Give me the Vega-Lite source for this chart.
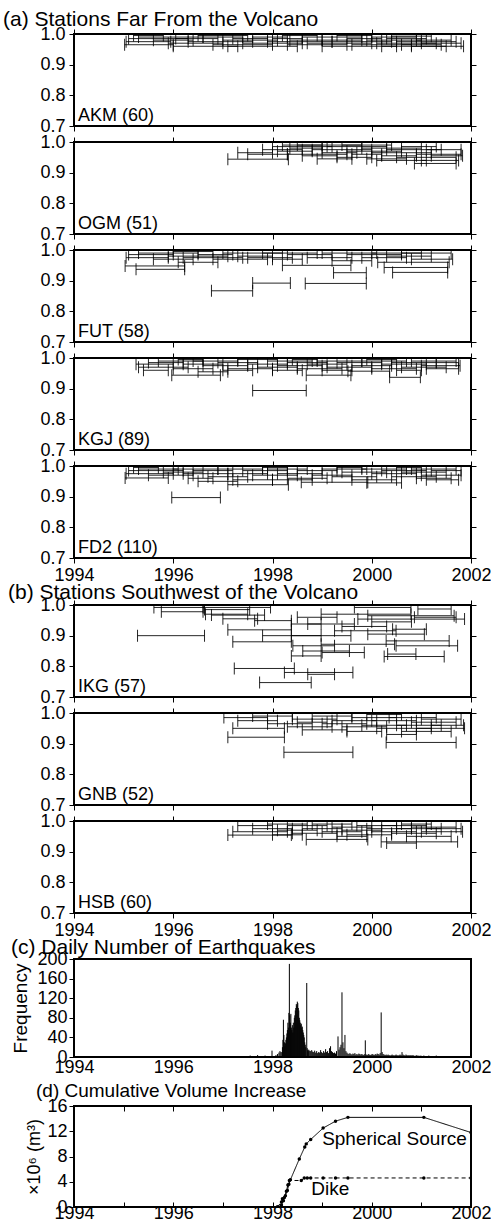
{
"$schema":"https://vega.github.io/schema/vega-lite/v6.json",
"padding":{"left":2,"right":0,"top":8,"bottom":0},
"spacing":-4,
"config":{
 "font":"Liberation Sans",
 "view":{"stroke":"black","strokeWidth":2},
 "axis":{"domain":false,"grid":false,"tickColor":"black","tickSize":5,"tickWidth":1,"labelColor":"black","labelFontSize":18,"labelFont":"Liberation Sans","labelPadding":3,"labelFlush":false,"titleFont":"Liberation Sans","titleFontWeight":"normal","titleColor":"black","titleFontSize":18},
 "title":{"font":"Liberation Sans","fontSize":21,"fontWeight":"normal","color":"black","anchor":"start","frame":"group","offset":0},
 "text":{"font":"Liberation Sans","color":"black","fontSize":18},
 "concat":{"spacing":-4}
},
"datasets":{
"labs":[{"s":"AKM","lab":"AKM (60)"},{"s":"OGM","lab":"OGM (51)"},{"s":"FUT","lab":"FUT (58)"},{"s":"KGJ","lab":"KGJ (89)"},{"s":"FD2","lab":"FD2 (110)"},{"s":"IKG","lab":"IKG (57)"},{"s":"GNB","lab":"GNB (52)"},{"s":"HSB","lab":"HSB (60)"}],
"iv":[
{"s":"AKM","a":1995.02,"b":1996.0,"v":0.965},{"s":"AKM","a":1995.05,"b":1995.95,"v":0.975},{"s":"AKM","a":1995.1,"b":1996.3,"v":0.985},{"s":"AKM","a":1995.3,"b":1996.6,"v":0.99},{"s":"AKM","a":1995.6,"b":1996.4,"v":0.98},{"s":"AKM","a":1995.9,"b":1997.0,"v":0.97},{"s":"AKM","a":1996.0,"b":1997.3,"v":0.96},{"s":"AKM","a":1996.05,"b":1996.9,"v":0.985},{"s":"AKM","a":1996.3,"b":1997.6,"v":0.975},{"s":"AKM","a":1996.6,"b":1997.4,"v":0.99},{"s":"AKM","a":1996.8,"b":1998.0,"v":0.965},{"s":"AKM","a":1997.0,"b":1998.1,"v":0.98},{"s":"AKM","a":1997.2,"b":1997.9,"v":0.985},{"s":"AKM","a":1997.4,"b":1998.6,"v":0.97},{"s":"AKM","a":1997.6,"b":1998.3,"v":0.99},{"s":"AKM","a":1997.9,"b":1999.2,"v":0.975},{"s":"AKM","a":1998.0,"b":1998.6,"v":0.985},{"s":"AKM","a":1998.3,"b":1999.5,"v":0.965},{"s":"AKM","a":1998.35,"b":1999.0,"v":0.98},{"s":"AKM","a":1998.6,"b":1999.8,"v":0.99},{"s":"AKM","a":1998.7,"b":2000.0,"v":0.97},{"s":"AKM","a":1999.0,"b":1999.8,"v":0.98},{"s":"AKM","a":1999.2,"b":2000.4,"v":0.975},{"s":"AKM","a":1999.5,"b":2000.2,"v":0.985},{"s":"AKM","a":1999.6,"b":2000.8,"v":0.965},{"s":"AKM","a":1999.9,"b":2001.0,"v":0.98},{"s":"AKM","a":2000.0,"b":2000.9,"v":0.99},{"s":"AKM","a":2000.1,"b":2001.3,"v":0.97},{"s":"AKM","a":2000.2,"b":2001.5,"v":0.96},{"s":"AKM","a":2000.3,"b":2001.1,"v":0.985},{"s":"AKM","a":2000.5,"b":2001.7,"v":0.975},{"s":"AKM","a":2000.6,"b":2001.4,"v":0.965},{"s":"AKM","a":2000.8,"b":2001.85,"v":0.96},{"s":"AKM","a":2000.9,"b":2001.6,"v":0.98},{"s":"AKM","a":2001.0,"b":2001.8,"v":0.97},{"s":"AKM","a":1995.2,"b":1995.8,"v":0.995},{"s":"AKM","a":1996.5,"b":1997.5,"v":0.995},{"s":"AKM","a":1998.2,"b":1998.9,"v":0.995},{"s":"AKM","a":1999.3,"b":2000.0,"v":0.995},{"s":"AKM","a":2000.4,"b":2001.2,"v":0.993},{"s":"AKM","a":1997.1,"b":1998.5,"v":0.96},{"s":"AKM","a":1999.0,"b":2000.5,"v":0.96},
{"s":"OGM","a":1997.1,"b":1998.32,"v":0.944},{"s":"OGM","a":1997.3,"b":1998.0,"v":0.965},{"s":"OGM","a":1997.5,"b":1998.3,"v":0.96},{"s":"OGM","a":1997.8,"b":1998.6,"v":0.975},{"s":"OGM","a":1998.0,"b":1999.2,"v":0.985},{"s":"OGM","a":1998.1,"b":1998.8,"v":0.97},{"s":"OGM","a":1998.3,"b":1999.5,"v":0.96},{"s":"OGM","a":1998.35,"b":1999.0,"v":0.98},{"s":"OGM","a":1998.5,"b":1999.8,"v":0.99},{"s":"OGM","a":1998.6,"b":1999.3,"v":0.955},{"s":"OGM","a":1998.8,"b":2000.0,"v":0.975},{"s":"OGM","a":1999.0,"b":1999.7,"v":0.965},{"s":"OGM","a":1999.1,"b":2000.3,"v":0.985},{"s":"OGM","a":1999.3,"b":2000.0,"v":0.95},{"s":"OGM","a":1999.5,"b":2000.6,"v":0.97},{"s":"OGM","a":1999.6,"b":2000.2,"v":0.96},{"s":"OGM","a":1999.8,"b":2001.0,"v":0.98},{"s":"OGM","a":1999.9,"b":2000.7,"v":0.945},{"s":"OGM","a":2000.0,"b":2001.2,"v":0.965},{"s":"OGM","a":2000.2,"b":2000.9,"v":0.955},{"s":"OGM","a":2000.3,"b":2001.4,"v":0.975},{"s":"OGM","a":2000.5,"b":2001.7,"v":0.95},{"s":"OGM","a":2000.6,"b":2001.3,"v":0.985},{"s":"OGM","a":2000.86,"b":2001.7,"v":0.93},{"s":"OGM","a":2000.9,"b":2001.8,"v":0.96},{"s":"OGM","a":2001.0,"b":2001.75,"v":0.94},{"s":"OGM","a":2001.2,"b":2001.83,"v":0.955},{"s":"OGM","a":1998.9,"b":1999.6,"v":0.945},{"s":"OGM","a":1999.4,"b":2000.4,"v":0.99},{"s":"OGM","a":2000.1,"b":2001.1,"v":0.94},{"s":"OGM","a":1998.2,"b":1999.0,"v":0.99},{"s":"OGM","a":2001.1,"b":2001.8,"v":0.975},
{"s":"FUT","a":1995.03,"b":1996.23,"v":0.948},{"s":"FUT","a":1995.25,"b":1996.23,"v":0.937},{"s":"FUT","a":1995.05,"b":1995.9,"v":0.975},{"s":"FUT","a":1995.1,"b":1996.0,"v":0.985},{"s":"FUT","a":1995.3,"b":1996.5,"v":0.99},{"s":"FUT","a":1995.6,"b":1996.4,"v":0.97},{"s":"FUT","a":1995.9,"b":1997.1,"v":0.98},{"s":"FUT","a":1996.0,"b":1996.8,"v":0.995},{"s":"FUT","a":1996.2,"b":1997.4,"v":0.975},{"s":"FUT","a":1996.5,"b":1997.2,"v":0.985},{"s":"FUT","a":1996.77,"b":1997.6,"v":0.867},{"s":"FUT","a":1996.8,"b":1997.9,"v":0.97},{"s":"FUT","a":1997.0,"b":1998.2,"v":0.99},{"s":"FUT","a":1997.3,"b":1998.0,"v":0.98},{"s":"FUT","a":1997.6,"b":1998.36,"v":0.892},{"s":"FUT","a":1997.5,"b":1998.4,"v":0.975},{"s":"FUT","a":1997.8,"b":1998.9,"v":0.99},{"s":"FUT","a":1998.2,"b":1999.58,"v":0.95},{"s":"FUT","a":1998.3,"b":1999.2,"v":0.985},{"s":"FUT","a":1998.66,"b":1999.89,"v":0.891},{"s":"FUT","a":1998.7,"b":1999.6,"v":0.975},{"s":"FUT","a":1999.0,"b":2000.1,"v":0.99},{"s":"FUT","a":1999.23,"b":1999.89,"v":0.926},{"s":"FUT","a":1999.2,"b":2000.0,"v":0.965},{"s":"FUT","a":1999.5,"b":2000.6,"v":0.985},{"s":"FUT","a":1999.8,"b":2000.7,"v":0.975},{"s":"FUT","a":2000.0,"b":2001.0,"v":0.99},{"s":"FUT","a":2000.12,"b":2001.56,"v":0.96},{"s":"FUT","a":2000.25,"b":2001.53,"v":0.943},{"s":"FUT","a":2000.42,"b":2001.53,"v":0.927},{"s":"FUT","a":2000.3,"b":2001.2,"v":0.98},{"s":"FUT","a":2000.6,"b":2001.6,"v":0.99},{"s":"FUT","a":2000.8,"b":2001.63,"v":0.97},{"s":"FUT","a":1998.0,"b":1998.6,"v":0.97},{"s":"FUT","a":1996.1,"b":1996.9,"v":0.96},
{"s":"KGJ","a":1995.25,"b":1996.0,"v":0.98},{"s":"KGJ","a":1995.3,"b":1996.3,"v":0.97},{"s":"KGJ","a":1995.5,"b":1996.2,"v":0.985},{"s":"KGJ","a":1995.7,"b":1996.6,"v":0.99},{"s":"KGJ","a":1995.97,"b":1996.95,"v":0.944},{"s":"KGJ","a":1996.0,"b":1996.8,"v":0.965},{"s":"KGJ","a":1996.2,"b":1997.0,"v":0.98},{"s":"KGJ","a":1996.4,"b":1997.3,"v":0.99},{"s":"KGJ","a":1996.6,"b":1997.5,"v":0.975},{"s":"KGJ","a":1996.9,"b":1997.7,"v":0.985},{"s":"KGJ","a":1997.1,"b":1998.0,"v":0.965},{"s":"KGJ","a":1997.3,"b":1998.1,"v":0.995},{"s":"KGJ","a":1997.5,"b":1998.3,"v":0.98},{"s":"KGJ","a":1997.6,"b":1998.68,"v":0.894},{"s":"KGJ","a":1997.7,"b":1998.5,"v":0.97},{"s":"KGJ","a":1997.9,"b":1998.8,"v":0.99},{"s":"KGJ","a":1998.1,"b":1999.0,"v":0.975},{"s":"KGJ","a":1998.3,"b":1999.1,"v":0.985},{"s":"KGJ","a":1998.5,"b":1999.4,"v":0.965},{"s":"KGJ","a":1998.68,"b":1999.58,"v":0.944},{"s":"KGJ","a":1998.7,"b":1999.5,"v":0.98},{"s":"KGJ","a":1998.9,"b":1999.8,"v":0.99},{"s":"KGJ","a":1999.1,"b":2000.0,"v":0.97},{"s":"KGJ","a":1999.3,"b":2000.2,"v":0.985},{"s":"KGJ","a":1999.52,"b":2000.36,"v":0.957},{"s":"KGJ","a":1999.6,"b":2000.4,"v":0.975},{"s":"KGJ","a":1999.8,"b":2000.7,"v":0.99},{"s":"KGJ","a":2000.0,"b":2000.9,"v":0.965},{"s":"KGJ","a":2000.2,"b":2001.1,"v":0.98},{"s":"KGJ","a":2000.36,"b":2000.98,"v":0.937},{"s":"KGJ","a":2000.4,"b":2001.3,"v":0.985},{"s":"KGJ","a":2000.6,"b":2001.5,"v":0.97},{"s":"KGJ","a":2000.8,"b":2001.7,"v":0.99},{"s":"KGJ","a":2001.0,"b":2001.78,"v":0.975},{"s":"KGJ","a":2001.1,"b":2001.75,"v":0.965},{"s":"KGJ","a":1996.1,"b":1996.6,"v":0.995},{"s":"KGJ","a":1997.0,"b":1997.6,"v":0.96},{"s":"KGJ","a":1998.0,"b":1998.6,"v":0.96},{"s":"KGJ","a":1999.0,"b":1999.6,"v":0.96},{"s":"KGJ","a":2000.5,"b":2001.0,"v":0.96},{"s":"KGJ","a":1998.4,"b":1998.9,"v":0.995},{"s":"KGJ","a":1999.9,"b":2000.5,"v":0.995},{"s":"KGJ","a":2001.3,"b":2001.75,"v":0.985},{"s":"KGJ","a":1995.4,"b":1995.9,"v":0.96},{"s":"KGJ","a":1996.5,"b":1997.1,"v":0.955},
{"s":"FD2","a":1995.03,"b":1995.9,"v":0.961},{"s":"FD2","a":1995.05,"b":1996.0,"v":0.975},{"s":"FD2","a":1995.1,"b":1996.2,"v":0.985},{"s":"FD2","a":1995.3,"b":1996.1,"v":0.99},{"s":"FD2","a":1995.5,"b":1996.4,"v":0.97},{"s":"FD2","a":1995.8,"b":1996.6,"v":0.98},{"s":"FD2","a":1995.97,"b":1996.95,"v":0.897},{"s":"FD2","a":1996.0,"b":1996.9,"v":0.99},{"s":"FD2","a":1996.2,"b":1997.1,"v":0.975},{"s":"FD2","a":1996.4,"b":1997.2,"v":0.985},{"s":"FD2","a":1996.7,"b":1997.5,"v":0.965},{"s":"FD2","a":1996.9,"b":1997.8,"v":0.99},{"s":"FD2","a":1997.1,"b":1998.32,"v":0.939},{"s":"FD2","a":1997.1,"b":1997.9,"v":0.975},{"s":"FD2","a":1997.2,"b":1998.0,"v":0.955},{"s":"FD2","a":1997.4,"b":1998.3,"v":0.985},{"s":"FD2","a":1997.6,"b":1998.5,"v":0.97},{"s":"FD2","a":1997.9,"b":1998.7,"v":0.99},{"s":"FD2","a":1998.1,"b":1999.0,"v":0.975},{"s":"FD2","a":1998.3,"b":1999.1,"v":0.96},{"s":"FD2","a":1998.5,"b":1999.3,"v":0.985},{"s":"FD2","a":1998.58,"b":1999.92,"v":0.947},{"s":"FD2","a":1998.8,"b":1999.6,"v":0.97},{"s":"FD2","a":1999.0,"b":1999.9,"v":0.99},{"s":"FD2","a":1999.2,"b":2000.1,"v":0.965},{"s":"FD2","a":1999.4,"b":2000.3,"v":0.98},{"s":"FD2","a":1999.6,"b":2000.5,"v":0.955},{"s":"FD2","a":1999.8,"b":2000.7,"v":0.99},{"s":"FD2","a":2000.0,"b":2000.9,"v":0.975},{"s":"FD2","a":2000.2,"b":2001.1,"v":0.985},{"s":"FD2","a":2000.4,"b":2001.3,"v":0.965},{"s":"FD2","a":2000.6,"b":2001.5,"v":0.98},{"s":"FD2","a":2000.8,"b":2001.7,"v":0.99},{"s":"FD2","a":2001.0,"b":2001.8,"v":0.97},{"s":"FD2","a":2001.1,"b":2001.75,"v":0.955},{"s":"FD2","a":2000.9,"b":2001.6,"v":0.96},{"s":"FD2","a":1995.2,"b":1995.7,"v":0.995},{"s":"FD2","a":1996.3,"b":1996.8,"v":0.96},{"s":"FD2","a":1997.8,"b":1998.3,"v":0.995},{"s":"FD2","a":1999.3,"b":1999.8,"v":0.995},{"s":"FD2","a":2000.5,"b":2001.0,"v":0.995},{"s":"FD2","a":1998.0,"b":1998.8,"v":0.955},{"s":"FD2","a":1999.9,"b":2000.6,"v":0.945},{"s":"FD2","a":2001.2,"b":2001.8,"v":0.985},{"s":"FD2","a":1996.5,"b":1997.3,"v":0.95},
{"s":"IKG","a":1995.61,"b":1996.62,"v":0.992},{"s":"IKG","a":1995.76,"b":1996.6,"v":0.978},{"s":"IKG","a":1995.28,"b":1996.63,"v":0.9},{"s":"IKG","a":1996.6,"b":1997.96,"v":0.992},{"s":"IKG","a":1996.63,"b":1997.54,"v":0.985},{"s":"IKG","a":1996.65,"b":1997.5,"v":0.97},{"s":"IKG","a":1996.77,"b":1997.84,"v":0.967},{"s":"IKG","a":1997.1,"b":1998.38,"v":0.919},{"s":"IKG","a":1997.2,"b":1998.38,"v":0.88},{"s":"IKG","a":1997.8,"b":1998.98,"v":0.9},{"s":"IKG","a":1997.23,"b":1998.44,"v":0.793},{"s":"IKG","a":1998.24,"b":1999.62,"v":0.78},{"s":"IKG","a":1997.74,"b":1998.78,"v":0.747},{"s":"IKG","a":1998.71,"b":1999.25,"v":0.774},{"s":"IKG","a":1997.64,"b":1998.38,"v":0.949},{"s":"IKG","a":1998.38,"b":1998.98,"v":0.938},{"s":"IKG","a":1998.71,"b":1999.65,"v":0.938},{"s":"IKG","a":1998.38,"b":1999.58,"v":0.9},{"s":"IKG","a":1998.41,"b":1999.25,"v":0.867},{"s":"IKG","a":1998.61,"b":1999.55,"v":0.85},{"s":"IKG","a":1998.38,"b":1998.98,"v":0.834},{"s":"IKG","a":1999.0,"b":1999.85,"v":0.845},{"s":"IKG","a":1998.98,"b":2000.79,"v":0.97},{"s":"IKG","a":1999.65,"b":2000.79,"v":0.992},{"s":"IKG","a":1999.72,"b":2001.87,"v":0.954},{"s":"IKG","a":1999.92,"b":2001.66,"v":0.965},{"s":"IKG","a":2000.25,"b":2001.46,"v":0.832},{"s":"IKG","a":2000.32,"b":2000.89,"v":0.84},{"s":"IKG","a":2000.29,"b":2001.56,"v":0.883},{"s":"IKG","a":2000.49,"b":2001.73,"v":0.867},{"s":"IKG","a":1999.92,"b":2001.06,"v":0.905},{"s":"IKG","a":2000.42,"b":2001.1,"v":0.921},{"s":"IKG","a":2000.86,"b":2001.7,"v":0.96},{"s":"IKG","a":2000.93,"b":2001.6,"v":0.987},{"s":"IKG","a":1999.25,"b":2000.49,"v":0.916},{"s":"IKG","a":1998.98,"b":2000.46,"v":0.872},{"s":"IKG","a":1997.0,"b":1997.7,"v":0.955},{"s":"IKG","a":1999.4,"b":2000.3,"v":0.93},{"s":"IKG","a":2000.0,"b":2000.8,"v":0.945},{"s":"IKG","a":1998.5,"b":1999.3,"v":0.96},
{"s":"GNB","a":1997.02,"b":1997.9,"v":0.985},{"s":"GNB","a":1997.1,"b":1998.24,"v":0.921},{"s":"GNB","a":1997.2,"b":1998.24,"v":0.95},{"s":"GNB","a":1997.3,"b":1998.1,"v":0.975},{"s":"GNB","a":1997.6,"b":1998.4,"v":0.99},{"s":"GNB","a":1997.9,"b":1998.8,"v":0.965},{"s":"GNB","a":1998.23,"b":1999.62,"v":0.872},{"s":"GNB","a":1998.3,"b":1999.2,"v":0.955},{"s":"GNB","a":1998.4,"b":1999.3,"v":0.98},{"s":"GNB","a":1998.6,"b":1999.5,"v":0.945},{"s":"GNB","a":1998.8,"b":1999.6,"v":0.99},{"s":"GNB","a":1999.0,"b":1999.9,"v":0.965},{"s":"GNB","a":1999.2,"b":2000.1,"v":0.975},{"s":"GNB","a":1999.4,"b":2000.3,"v":0.955},{"s":"GNB","a":1999.6,"b":2000.5,"v":0.985},{"s":"GNB","a":1999.8,"b":2000.7,"v":0.96},{"s":"GNB","a":2000.0,"b":2000.9,"v":0.975},{"s":"GNB","a":2000.1,"b":2001.2,"v":0.95},{"s":"GNB","a":2000.29,"b":2001.7,"v":0.904},{"s":"GNB","a":2000.35,"b":2001.3,"v":0.985},{"s":"GNB","a":2000.5,"b":2001.4,"v":0.96},{"s":"GNB","a":2000.6,"b":2001.6,"v":0.94},{"s":"GNB","a":2000.8,"b":2001.7,"v":0.97},{"s":"GNB","a":2000.9,"b":2001.87,"v":0.95},{"s":"GNB","a":2001.0,"b":2001.8,"v":0.98},{"s":"GNB","a":2001.2,"b":2001.85,"v":0.96},{"s":"GNB","a":1999.9,"b":2000.6,"v":0.995},{"s":"GNB","a":1998.5,"b":1999.1,"v":0.97},{"s":"GNB","a":2000.3,"b":2000.9,"v":0.93},{"s":"GNB","a":1999.5,"b":2000.2,"v":0.94},
{"s":"HSB","a":1997.1,"b":1998.38,"v":0.954},{"s":"HSB","a":1997.2,"b":1998.3,"v":0.965},{"s":"HSB","a":1997.3,"b":1998.0,"v":0.985},{"s":"HSB","a":1997.6,"b":1998.4,"v":0.975},{"s":"HSB","a":1997.9,"b":1998.7,"v":0.99},{"s":"HSB","a":1998.1,"b":1998.9,"v":0.97},{"s":"HSB","a":1998.3,"b":1999.1,"v":0.985},{"s":"HSB","a":1998.4,"b":1999.3,"v":0.96},{"s":"HSB","a":1998.6,"b":1999.4,"v":0.975},{"s":"HSB","a":1998.68,"b":1999.92,"v":0.94},{"s":"HSB","a":1998.8,"b":1999.6,"v":0.99},{"s":"HSB","a":1999.0,"b":1999.8,"v":0.965},{"s":"HSB","a":1999.2,"b":2000.0,"v":0.98},{"s":"HSB","a":1999.4,"b":2000.2,"v":0.97},{"s":"HSB","a":1999.5,"b":2000.4,"v":0.955},{"s":"HSB","a":1999.7,"b":2000.5,"v":0.985},{"s":"HSB","a":1999.9,"b":2000.8,"v":0.975},{"s":"HSB","a":2000.0,"b":2000.9,"v":0.965},{"s":"HSB","a":2000.19,"b":2001.73,"v":0.932},{"s":"HSB","a":2000.3,"b":2000.9,"v":0.928},{"s":"HSB","a":2000.2,"b":2001.1,"v":0.985},{"s":"HSB","a":2000.4,"b":2001.3,"v":0.96},{"s":"HSB","a":2000.5,"b":2001.4,"v":0.975},{"s":"HSB","a":2000.7,"b":2001.6,"v":0.95},{"s":"HSB","a":2000.8,"b":2001.7,"v":0.98},{"s":"HSB","a":2001.0,"b":2001.83,"v":0.965},{"s":"HSB","a":2001.1,"b":2001.8,"v":0.975},{"s":"HSB","a":1998.0,"b":1998.6,"v":0.955},{"s":"HSB","a":1999.3,"b":1999.9,"v":0.95},{"s":"HSB","a":2000.6,"b":2001.2,"v":0.99}
],
"eq":[
{"t":1995.2,"n":1},{"t":1996.1,"n":1},{"t":1996.4,"n":1},{"t":1996.9,"n":1},{"t":1997.2,"n":1},{"t":1997.45,"n":2},{"t":1997.55,"n":3},{"t":1997.62,"n":2},{"t":1997.7,"n":4},{"t":1997.78,"n":2},{"t":1997.85,"n":3},{"t":1997.92,"n":2},{"t":1997.99,"n":13},{"t":1998.03,"n":2},{"t":1998.07,"n":4},{"t":1998.1,"n":6},{"t":1998.13,"n":9},{"t":1998.15,"n":12},{"t":1998.17,"n":10},
{"t":1998.19,"n":10},{"t":1998.2,"n":20},{"t":1998.21,"n":35},{"t":1998.22,"n":76},{"t":1998.23,"n":45},{"t":1998.24,"n":30},{"t":1998.25,"n":22},{"t":1998.26,"n":28},{"t":1998.27,"n":35},{"t":1998.28,"n":40},{"t":1998.29,"n":48},{"t":1998.3,"n":55},{"t":1998.31,"n":70},{"t":1998.32,"n":60},{"t":1998.33,"n":90},{"t":1998.34,"n":190},{"t":1998.35,"n":85},{"t":1998.36,"n":70},{"t":1998.37,"n":88},{"t":1998.38,"n":60},{"t":1998.39,"n":55},{"t":1998.4,"n":65},{"t":1998.41,"n":50},{"t":1998.42,"n":70},{"t":1998.43,"n":60},{"t":1998.44,"n":80},{"t":1998.45,"n":85},{"t":1998.46,"n":95},{"t":1998.47,"n":100},{"t":1998.48,"n":108},{"t":1998.49,"n":105},{"t":1998.5,"n":113},{"t":1998.51,"n":110},{"t":1998.52,"n":100},{"t":1998.53,"n":95},{"t":1998.54,"n":80},{"t":1998.55,"n":75},{"t":1998.56,"n":70},{"t":1998.57,"n":65},{"t":1998.58,"n":68},{"t":1998.59,"n":60},{"t":1998.6,"n":62},{"t":1998.61,"n":55},{"t":1998.62,"n":50},{"t":1998.63,"n":45},{"t":1998.64,"n":40},{"t":1998.65,"n":30},{"t":1998.66,"n":25},{"t":1998.67,"n":20},{"t":1998.69,"n":151},{"t":1998.7,"n":18},{"t":1998.71,"n":14},{"t":1998.72,"n":12},{"t":1998.73,"n":15},
{"t":1998.75,"n":13},{"t":1998.77,"n":12},{"t":1998.79,"n":14},{"t":1998.81,"n":11},{"t":1998.83,"n":10},{"t":1998.85,"n":13},{"t":1998.87,"n":9},{"t":1998.89,"n":12},{"t":1998.91,"n":8},{"t":1998.93,"n":10},{"t":1998.95,"n":9},{"t":1998.97,"n":14},{"t":1998.99,"n":10},{"t":1999.01,"n":8},{"t":1999.03,"n":12},{"t":1999.05,"n":9},{"t":1999.07,"n":16},{"t":1999.09,"n":10},{"t":1999.11,"n":12},{"t":1999.13,"n":8},{"t":1999.15,"n":18},{"t":1999.17,"n":22},{"t":1999.19,"n":12},{"t":1999.21,"n":10},{"t":1999.23,"n":8},{"t":1999.25,"n":9},{"t":1999.27,"n":7},{"t":1999.29,"n":12},{"t":1999.32,"n":42},{"t":1999.34,"n":15},{"t":1999.36,"n":20},{"t":1999.38,"n":25},{"t":1999.4,"n":132},{"t":1999.42,"n":30},{"t":1999.44,"n":18},{"t":1999.46,"n":45},{"t":1999.48,"n":12},{"t":1999.5,"n":9},{"t":1999.52,"n":7},{"t":1999.54,"n":6},{"t":1999.56,"n":8},{"t":1999.58,"n":6},{"t":1999.6,"n":5},{"t":1999.62,"n":7},{"t":1999.64,"n":6},{"t":1999.66,"n":8},{"t":1999.68,"n":5},{"t":1999.7,"n":6},{"t":1999.72,"n":5},{"t":1999.74,"n":7},{"t":1999.76,"n":6},{"t":1999.78,"n":5},{"t":1999.8,"n":6},{"t":1999.82,"n":5},{"t":1999.84,"n":4},{"t":1999.86,"n":6},{"t":1999.87,"n":34},{"t":1999.89,"n":5},{"t":1999.91,"n":4},{"t":1999.93,"n":6},{"t":1999.95,"n":5},{"t":1999.97,"n":4},{"t":1999.99,"n":5},{"t":2000.01,"n":6},{"t":2000.03,"n":5},{"t":2000.05,"n":4},{"t":2000.07,"n":6},{"t":2000.09,"n":5},{"t":2000.11,"n":7},{"t":2000.13,"n":6},{"t":2000.15,"n":5},{"t":2000.17,"n":8},{"t":2000.19,"n":91},{"t":2000.21,"n":10},{"t":2000.23,"n":6},{"t":2000.25,"n":5},{"t":2000.27,"n":4},{"t":2000.29,"n":5},{"t":2000.31,"n":4},{"t":2000.33,"n":5},{"t":2000.35,"n":4},{"t":2000.37,"n":3},{"t":2000.39,"n":4},{"t":2000.41,"n":5},{"t":2000.43,"n":4},{"t":2000.45,"n":3},{"t":2000.47,"n":4},{"t":2000.49,"n":5},{"t":2000.51,"n":4},{"t":2000.53,"n":3},{"t":2000.55,"n":4},{"t":2000.57,"n":5},{"t":2000.59,"n":4},{"t":2000.61,"n":10},{"t":2000.63,"n":5},{"t":2000.65,"n":4},{"t":2000.67,"n":3},{"t":2000.69,"n":5},{"t":2000.71,"n":4},{"t":2000.73,"n":3},{"t":2000.75,"n":4},{"t":2000.77,"n":3},{"t":2000.79,"n":4},{"t":2000.81,"n":3},{"t":2000.83,"n":4},{"t":2000.85,"n":3},{"t":2000.87,"n":2},{"t":2000.89,"n":3},{"t":2000.91,"n":4},{"t":2000.93,"n":2},{"t":2000.95,"n":3},{"t":2000.97,"n":2},{"t":2000.99,"n":3},{"t":2001.01,"n":2},{"t":2001.05,"n":3},{"t":2001.1,"n":2},{"t":2001.15,"n":3},{"t":2001.2,"n":2},{"t":2001.25,"n":2},{"t":2001.3,"n":3},{"t":2001.35,"n":2},{"t":2001.4,"n":1},{"t":2001.5,"n":1},{"t":2001.7,"n":1}
],
"vol":[
{"src":"Spherical Source","t":1998.1,"v":0},{"src":"Spherical Source","t":1998.18,"v":0.3},{"src":"Spherical Source","t":1998.22,"v":1.0},{"src":"Spherical Source","t":1998.26,"v":1.8},{"src":"Spherical Source","t":1998.3,"v":2.6},{"src":"Spherical Source","t":1998.33,"v":3.6},{"src":"Spherical Source","t":1998.36,"v":4.3},{"src":"Spherical Source","t":1998.54,"v":7.6},{"src":"Spherical Source","t":1998.65,"v":9.5},{"src":"Spherical Source","t":1998.68,"v":10.0},{"src":"Spherical Source","t":1998.77,"v":10.7},{"src":"Spherical Source","t":1999.02,"v":12.5},{"src":"Spherical Source","t":1999.27,"v":13.6},{"src":"Spherical Source","t":1999.52,"v":14.2},{"src":"Spherical Source","t":2001.05,"v":14.2},{"src":"Spherical Source","t":2002.0,"v":11.8},
{"src":"Dike","t":1998.1,"v":0},{"src":"Dike","t":1998.18,"v":0.8},{"src":"Dike","t":1998.2,"v":1.3},{"src":"Dike","t":1998.24,"v":1.5},{"src":"Dike","t":1998.28,"v":2.5},{"src":"Dike","t":1998.31,"v":3.5},{"src":"Dike","t":1998.34,"v":4.2},{"src":"Dike","t":1998.58,"v":4.2},{"src":"Dike","t":1998.64,"v":4.6},{"src":"Dike","t":1998.7,"v":4.6},{"src":"Dike","t":1998.77,"v":4.6},{"src":"Dike","t":1999.02,"v":4.6},{"src":"Dike","t":1999.27,"v":4.6},{"src":"Dike","t":1999.52,"v":4.6},{"src":"Dike","t":2001.05,"v":4.6},{"src":"Dike","t":2002.0,"v":4.6}
],
"vtxt":[{"x":1999.0,"y":10.8,"t":"Spherical Source"},{"x":1998.78,"y":2.9,"t":"Dike"}]
},
"vconcat":[
{"width":397,"height":92,"title":{"text":"(a) Stations Far From the Volcano","dx":-71,"offset":-5},
 "layer":[
  {"data":{"name":"iv"},"transform":[{"filter":"datum.s=='AKM'"}],"mark":{"type":"rule","color":"black","strokeWidth":1,"opacity":0.85,"clip":true},
   "encoding":{"x":{"field":"a","type":"quantitative","scale":{"domain":[1994,2002],"nice":false},"axis":{"orient":"bottom","values":[1994,1996,1998,2000,2002],"labels":false,"title":null}},"x2":{"field":"b"},
   "y":{"field":"v","type":"quantitative","scale":{"domain":[0.7,1],"nice":false,"zero":false},"axis":{"orient":"left","values":[0.7,0.8,0.9,1],"format":".1f","labelPadding":4,"title":null}}}},
  {"data":{"name":"iv"},"transform":[{"filter":"datum.s=='AKM'"}],"mark":{"type":"tick","orient":"vertical","color":"black","thickness":1,"size":12,"opacity":0.85,"clip":true},
   "encoding":{"x":{"field":"a","type":"quantitative","axis":{"orient":"top","values":[1994,1996,1998,2000,2002],"labels":false,"title":null}},"y":{"field":"v","type":"quantitative","axis":{"orient":"right","values":[0.7,0.8,0.9,1],"labels":false,"title":null}}}},
  {"data":{"name":"iv"},"transform":[{"filter":"datum.s=='AKM'"}],"mark":{"type":"tick","orient":"vertical","color":"black","thickness":1,"size":12,"opacity":0.85,"clip":true},
   "encoding":{"x":{"field":"b","type":"quantitative","axis":null},"y":{"field":"v","type":"quantitative","axis":null}}},
  {"data":{"name":"labs"},"transform":[{"filter":"datum.s=='AKM'"}],"mark":{"type":"text","align":"left","baseline":"bottom","dx":4,"dy":-1},
   "encoding":{"x":{"datum":1994,"type":"quantitative","axis":null},"y":{"datum":0.7,"type":"quantitative","axis":null},"text":{"field":"lab"}}}
 ],"resolve":{"axis":{"x":"independent","y":"independent"}}},
{"width":397,"height":92,
 "layer":[
  {"data":{"name":"iv"},"transform":[{"filter":"datum.s=='OGM'"}],"mark":{"type":"rule","color":"black","strokeWidth":1,"opacity":0.85,"clip":true},
   "encoding":{"x":{"field":"a","type":"quantitative","scale":{"domain":[1994,2002],"nice":false},"axis":{"orient":"bottom","values":[1994,1996,1998,2000,2002],"labels":false,"title":null}},"x2":{"field":"b"},
   "y":{"field":"v","type":"quantitative","scale":{"domain":[0.7,1],"nice":false,"zero":false},"axis":{"orient":"left","values":[0.7,0.8,0.9,1],"format":".1f","labelPadding":4,"title":null}}}},
  {"data":{"name":"iv"},"transform":[{"filter":"datum.s=='OGM'"}],"mark":{"type":"tick","orient":"vertical","color":"black","thickness":1,"size":12,"opacity":0.85,"clip":true},
   "encoding":{"x":{"field":"a","type":"quantitative","axis":{"orient":"top","values":[1994,1996,1998,2000,2002],"labels":false,"title":null}},"y":{"field":"v","type":"quantitative","axis":{"orient":"right","values":[0.7,0.8,0.9,1],"labels":false,"title":null}}}},
  {"data":{"name":"iv"},"transform":[{"filter":"datum.s=='OGM'"}],"mark":{"type":"tick","orient":"vertical","color":"black","thickness":1,"size":12,"opacity":0.85,"clip":true},
   "encoding":{"x":{"field":"b","type":"quantitative","axis":null},"y":{"field":"v","type":"quantitative","axis":null}}},
  {"data":{"name":"labs"},"transform":[{"filter":"datum.s=='OGM'"}],"mark":{"type":"text","align":"left","baseline":"bottom","dx":4,"dy":-1},
   "encoding":{"x":{"datum":1994,"type":"quantitative","axis":null},"y":{"datum":0.7,"type":"quantitative","axis":null},"text":{"field":"lab"}}}
 ],"resolve":{"axis":{"x":"independent","y":"independent"}}},
{"width":397,"height":92,
 "layer":[
  {"data":{"name":"iv"},"transform":[{"filter":"datum.s=='FUT'"}],"mark":{"type":"rule","color":"black","strokeWidth":1,"opacity":0.85,"clip":true},
   "encoding":{"x":{"field":"a","type":"quantitative","scale":{"domain":[1994,2002],"nice":false},"axis":{"orient":"bottom","values":[1994,1996,1998,2000,2002],"labels":false,"title":null}},"x2":{"field":"b"},
   "y":{"field":"v","type":"quantitative","scale":{"domain":[0.7,1],"nice":false,"zero":false},"axis":{"orient":"left","values":[0.7,0.8,0.9,1],"format":".1f","labelPadding":4,"title":null}}}},
  {"data":{"name":"iv"},"transform":[{"filter":"datum.s=='FUT'"}],"mark":{"type":"tick","orient":"vertical","color":"black","thickness":1,"size":12,"opacity":0.85,"clip":true},
   "encoding":{"x":{"field":"a","type":"quantitative","axis":{"orient":"top","values":[1994,1996,1998,2000,2002],"labels":false,"title":null}},"y":{"field":"v","type":"quantitative","axis":{"orient":"right","values":[0.7,0.8,0.9,1],"labels":false,"title":null}}}},
  {"data":{"name":"iv"},"transform":[{"filter":"datum.s=='FUT'"}],"mark":{"type":"tick","orient":"vertical","color":"black","thickness":1,"size":12,"opacity":0.85,"clip":true},
   "encoding":{"x":{"field":"b","type":"quantitative","axis":null},"y":{"field":"v","type":"quantitative","axis":null}}},
  {"data":{"name":"labs"},"transform":[{"filter":"datum.s=='FUT'"}],"mark":{"type":"text","align":"left","baseline":"bottom","dx":4,"dy":-1},
   "encoding":{"x":{"datum":1994,"type":"quantitative","axis":null},"y":{"datum":0.7,"type":"quantitative","axis":null},"text":{"field":"lab"}}}
 ],"resolve":{"axis":{"x":"independent","y":"independent"}}},
{"width":397,"height":92,
 "layer":[
  {"data":{"name":"iv"},"transform":[{"filter":"datum.s=='KGJ'"}],"mark":{"type":"rule","color":"black","strokeWidth":1,"opacity":0.85,"clip":true},
   "encoding":{"x":{"field":"a","type":"quantitative","scale":{"domain":[1994,2002],"nice":false},"axis":{"orient":"bottom","values":[1994,1996,1998,2000,2002],"labels":false,"title":null}},"x2":{"field":"b"},
   "y":{"field":"v","type":"quantitative","scale":{"domain":[0.7,1],"nice":false,"zero":false},"axis":{"orient":"left","values":[0.7,0.8,0.9,1],"format":".1f","labelPadding":4,"title":null}}}},
  {"data":{"name":"iv"},"transform":[{"filter":"datum.s=='KGJ'"}],"mark":{"type":"tick","orient":"vertical","color":"black","thickness":1,"size":12,"opacity":0.85,"clip":true},
   "encoding":{"x":{"field":"a","type":"quantitative","axis":{"orient":"top","values":[1994,1996,1998,2000,2002],"labels":false,"title":null}},"y":{"field":"v","type":"quantitative","axis":{"orient":"right","values":[0.7,0.8,0.9,1],"labels":false,"title":null}}}},
  {"data":{"name":"iv"},"transform":[{"filter":"datum.s=='KGJ'"}],"mark":{"type":"tick","orient":"vertical","color":"black","thickness":1,"size":12,"opacity":0.85,"clip":true},
   "encoding":{"x":{"field":"b","type":"quantitative","axis":null},"y":{"field":"v","type":"quantitative","axis":null}}},
  {"data":{"name":"labs"},"transform":[{"filter":"datum.s=='KGJ'"}],"mark":{"type":"text","align":"left","baseline":"bottom","dx":4,"dy":-1},
   "encoding":{"x":{"datum":1994,"type":"quantitative","axis":null},"y":{"datum":0.7,"type":"quantitative","axis":null},"text":{"field":"lab"}}}
 ],"resolve":{"axis":{"x":"independent","y":"independent"}}},
{"width":397,"height":92,
 "layer":[
  {"data":{"name":"iv"},"transform":[{"filter":"datum.s=='FD2'"}],"mark":{"type":"rule","color":"black","strokeWidth":1,"opacity":0.85,"clip":true},
   "encoding":{"x":{"field":"a","type":"quantitative","scale":{"domain":[1994,2002],"nice":false},"axis":{"orient":"bottom","values":[1994,1996,1998,2000,2002],"format":"d","title":null}},"x2":{"field":"b"},
   "y":{"field":"v","type":"quantitative","scale":{"domain":[0.7,1],"nice":false,"zero":false},"axis":{"orient":"left","values":[0.7,0.8,0.9,1],"format":".1f","labelPadding":4,"title":null}}}},
  {"data":{"name":"iv"},"transform":[{"filter":"datum.s=='FD2'"}],"mark":{"type":"tick","orient":"vertical","color":"black","thickness":1,"size":12,"opacity":0.85,"clip":true},
   "encoding":{"x":{"field":"a","type":"quantitative","axis":{"orient":"top","values":[1994,1996,1998,2000,2002],"labels":false,"title":null}},"y":{"field":"v","type":"quantitative","axis":{"orient":"right","values":[0.7,0.8,0.9,1],"labels":false,"title":null}}}},
  {"data":{"name":"iv"},"transform":[{"filter":"datum.s=='FD2'"}],"mark":{"type":"tick","orient":"vertical","color":"black","thickness":1,"size":12,"opacity":0.85,"clip":true},
   "encoding":{"x":{"field":"b","type":"quantitative","axis":null},"y":{"field":"v","type":"quantitative","axis":null}}},
  {"data":{"name":"labs"},"transform":[{"filter":"datum.s=='FD2'"}],"mark":{"type":"text","align":"left","baseline":"bottom","dx":4,"dy":-1},
   "encoding":{"x":{"datum":1994,"type":"quantitative","axis":null},"y":{"datum":0.7,"type":"quantitative","axis":null},"text":{"field":"lab"}}}
 ],"resolve":{"axis":{"x":"independent","y":"independent"}}},
{"width":397,"height":92,"title":{"text":"(b) Stations Southwest of the Volcano","dx":-66,"offset":-7},
 "layer":[
  {"data":{"name":"iv"},"transform":[{"filter":"datum.s=='IKG'"}],"mark":{"type":"rule","color":"black","strokeWidth":1,"opacity":0.85,"clip":true},
   "encoding":{"x":{"field":"a","type":"quantitative","scale":{"domain":[1994,2002],"nice":false},"axis":{"orient":"bottom","values":[1994,1996,1998,2000,2002],"labels":false,"title":null}},"x2":{"field":"b"},
   "y":{"field":"v","type":"quantitative","scale":{"domain":[0.7,1],"nice":false,"zero":false},"axis":{"orient":"left","values":[0.7,0.8,0.9,1],"format":".1f","labelPadding":4,"title":null}}}},
  {"data":{"name":"iv"},"transform":[{"filter":"datum.s=='IKG'"}],"mark":{"type":"tick","orient":"vertical","color":"black","thickness":1,"size":12,"opacity":0.85,"clip":true},
   "encoding":{"x":{"field":"a","type":"quantitative","axis":{"orient":"top","values":[1994,1996,1998,2000,2002],"labels":false,"title":null}},"y":{"field":"v","type":"quantitative","axis":{"orient":"right","values":[0.7,0.8,0.9,1],"labels":false,"title":null}}}},
  {"data":{"name":"iv"},"transform":[{"filter":"datum.s=='IKG'"}],"mark":{"type":"tick","orient":"vertical","color":"black","thickness":1,"size":12,"opacity":0.85,"clip":true},
   "encoding":{"x":{"field":"b","type":"quantitative","axis":null},"y":{"field":"v","type":"quantitative","axis":null}}},
  {"data":{"name":"labs"},"transform":[{"filter":"datum.s=='IKG'"}],"mark":{"type":"text","align":"left","baseline":"bottom","dx":4,"dy":-1},
   "encoding":{"x":{"datum":1994,"type":"quantitative","axis":null},"y":{"datum":0.7,"type":"quantitative","axis":null},"text":{"field":"lab"}}}
 ],"resolve":{"axis":{"x":"independent","y":"independent"}}},
{"width":397,"height":92,
 "layer":[
  {"data":{"name":"iv"},"transform":[{"filter":"datum.s=='GNB'"}],"mark":{"type":"rule","color":"black","strokeWidth":1,"opacity":0.85,"clip":true},
   "encoding":{"x":{"field":"a","type":"quantitative","scale":{"domain":[1994,2002],"nice":false},"axis":{"orient":"bottom","values":[1994,1996,1998,2000,2002],"labels":false,"title":null}},"x2":{"field":"b"},
   "y":{"field":"v","type":"quantitative","scale":{"domain":[0.7,1],"nice":false,"zero":false},"axis":{"orient":"left","values":[0.7,0.8,0.9,1],"format":".1f","labelPadding":4,"title":null}}}},
  {"data":{"name":"iv"},"transform":[{"filter":"datum.s=='GNB'"}],"mark":{"type":"tick","orient":"vertical","color":"black","thickness":1,"size":12,"opacity":0.85,"clip":true},
   "encoding":{"x":{"field":"a","type":"quantitative","axis":{"orient":"top","values":[1994,1996,1998,2000,2002],"labels":false,"title":null}},"y":{"field":"v","type":"quantitative","axis":{"orient":"right","values":[0.7,0.8,0.9,1],"labels":false,"title":null}}}},
  {"data":{"name":"iv"},"transform":[{"filter":"datum.s=='GNB'"}],"mark":{"type":"tick","orient":"vertical","color":"black","thickness":1,"size":12,"opacity":0.85,"clip":true},
   "encoding":{"x":{"field":"b","type":"quantitative","axis":null},"y":{"field":"v","type":"quantitative","axis":null}}},
  {"data":{"name":"labs"},"transform":[{"filter":"datum.s=='GNB'"}],"mark":{"type":"text","align":"left","baseline":"bottom","dx":4,"dy":-1},
   "encoding":{"x":{"datum":1994,"type":"quantitative","axis":null},"y":{"datum":0.7,"type":"quantitative","axis":null},"text":{"field":"lab"}}}
 ],"resolve":{"axis":{"x":"independent","y":"independent"}}},
{"width":397,"height":92,
 "layer":[
  {"data":{"name":"iv"},"transform":[{"filter":"datum.s=='HSB'"}],"mark":{"type":"rule","color":"black","strokeWidth":1,"opacity":0.85,"clip":true},
   "encoding":{"x":{"field":"a","type":"quantitative","scale":{"domain":[1994,2002],"nice":false},"axis":{"orient":"bottom","values":[1994,1996,1998,2000,2002],"format":"d","title":null}},"x2":{"field":"b"},
   "y":{"field":"v","type":"quantitative","scale":{"domain":[0.7,1],"nice":false,"zero":false},"axis":{"orient":"left","values":[0.7,0.8,0.9,1],"format":".1f","labelPadding":4,"title":null}}}},
  {"data":{"name":"iv"},"transform":[{"filter":"datum.s=='HSB'"}],"mark":{"type":"tick","orient":"vertical","color":"black","thickness":1,"size":12,"opacity":0.85,"clip":true},
   "encoding":{"x":{"field":"a","type":"quantitative","axis":{"orient":"top","values":[1994,1996,1998,2000,2002],"labels":false,"title":null}},"y":{"field":"v","type":"quantitative","axis":{"orient":"right","values":[0.7,0.8,0.9,1],"labels":false,"title":null}}}},
  {"data":{"name":"iv"},"transform":[{"filter":"datum.s=='HSB'"}],"mark":{"type":"tick","orient":"vertical","color":"black","thickness":1,"size":12,"opacity":0.85,"clip":true},
   "encoding":{"x":{"field":"b","type":"quantitative","axis":null},"y":{"field":"v","type":"quantitative","axis":null}}},
  {"data":{"name":"labs"},"transform":[{"filter":"datum.s=='HSB'"}],"mark":{"type":"text","align":"left","baseline":"bottom","dx":4,"dy":-1},
   "encoding":{"x":{"datum":1994,"type":"quantitative","axis":null},"y":{"datum":0.7,"type":"quantitative","axis":null},"text":{"field":"lab"}}}
 ],"resolve":{"axis":{"x":"independent","y":"independent"}}},
{"width":397,"height":98,"title":{"text":"(c) Daily Number of Earthquakes","dx":-63,"offset":-8},
 "data":{"name":"eq"},
 "mark":{"type":"rule","color":"black","strokeWidth":1},
 "encoding":{
  "x":{"field":"t","type":"quantitative","scale":{"domain":[1994,2002],"nice":false},"axis":{"values":[1994,1996,1998,2000,2002],"format":"d","ticks":false,"labelPadding":1,"title":" ","titleFontSize":8,"titlePadding":0}},
  "y":{"field":"n","type":"quantitative","scale":{"domain":[0,200],"nice":false},"axis":{"values":[0,40,80,120,160,200],"title":"Frequency","titlePadding":6,"labelPadding":2,"titleFontSize":19}},
  "y2":{"datum":0}}},
{"width":397,"height":101,"title":{"text":"(d) Cumulative Volume Increase","dx":-38,"fontSize":19,"offset":-4},
 "layer":[
  {"data":{"name":"vol"},"mark":{"type":"line","color":"black","strokeWidth":1,"clip":true},
   "encoding":{"x":{"field":"t","type":"quantitative","scale":{"domain":[1994,2002],"nice":false},"axis":{"orient":"bottom","values":[1994,1995,1996,1997,1998,1999,2000,2001,2002],"labelExpr":"datum.value % 2 == 0 ? format(datum.value,'d') : ''","tickSize":-5,"labelPadding":2,"title":null}},
   "y":{"field":"v","type":"quantitative","scale":{"domain":[0,16],"nice":false},"axis":{"orient":"left","values":[0,4,8,12,16],"title":"×10⁶ (m³)","titlePadding":3,"labelPadding":2}},
   "strokeDash":{"field":"src","type":"nominal","scale":{"domain":["Spherical Source","Dike"],"range":[[1,0],[4,3]]},"legend":null},
   "detail":{"field":"src"}}},
  {"data":{"name":"vol"},"mark":{"type":"point","filled":true,"color":"black","size":12,"opacity":1,"clip":true},
   "encoding":{"x":{"field":"t","type":"quantitative","axis":{"orient":"top","values":[1994,1995,1996,1997,1998,1999,2000,2001,2002],"labels":false,"tickSize":-5,"title":null}},"y":{"field":"v","type":"quantitative","axis":null}}},
  {"data":{"name":"vtxt"},"mark":{"type":"text","align":"left","baseline":"middle","fontSize":19},
   "encoding":{"x":{"field":"x","type":"quantitative","axis":null},"y":{"field":"y","type":"quantitative","axis":null},"text":{"field":"t"}}}
 ],"resolve":{"axis":{"x":"independent","y":"independent"}}}
]
}
